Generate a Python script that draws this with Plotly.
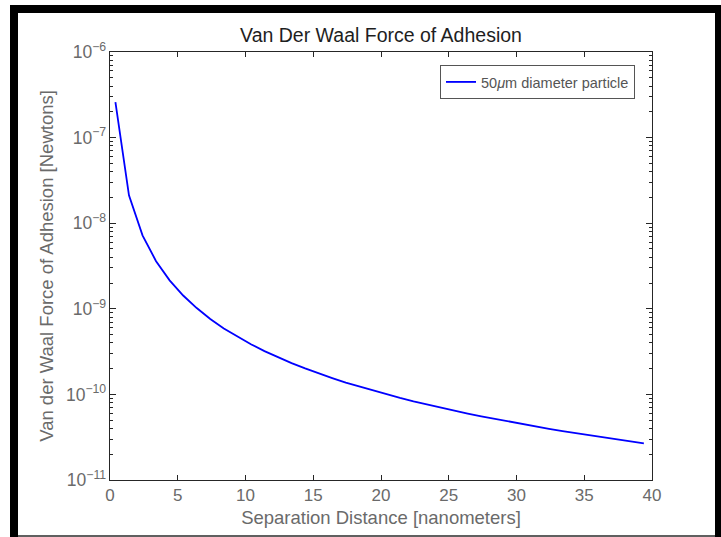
import plotly.graph_objects as go

# Data
separation_nm = [0.4, 1.4, 2.4, 3.4, 4.4, 5.4, 6.4, 7.4, 8.4, 9.4,
                 10.4, 11.4, 12.4, 13.4, 14.4, 15.4, 16.4, 17.4, 18.4, 19.4,
                 20.4, 21.4, 22.4, 23.4, 24.4, 25.4, 26.4, 27.4, 28.4, 29.4,
                 30.4, 31.4, 32.4, 33.4, 34.4, 35.4, 36.4, 37.4, 38.4, 39.4]
force_N = [2.6e-7, 2.12e-8, 7.22e-9, 3.60e-9, 2.15e-9, 1.43e-9, 1.02e-9, 7.60e-10, 5.90e-10, 4.71e-10,
           3.85e-10, 3.20e-10, 2.71e-10, 2.32e-10, 2.01e-10, 1.75e-10, 1.55e-10, 1.37e-10, 1.23e-10, 1.11e-10,
           1.00e-10, 9.08e-11, 8.29e-11, 7.60e-11, 6.99e-11, 6.45e-11, 5.97e-11, 5.54e-11, 5.16e-11, 4.81e-11,
           4.50e-11, 4.22e-11, 3.96e-11, 3.73e-11, 3.52e-11, 3.32e-11, 3.14e-11, 2.97e-11, 2.82e-11, 2.68e-11]

x_ticks = [0, 5, 10, 15, 20, 25, 30, 35, 40]
y_decades = [-11, -6]

FONT = "Liberation Sans, Arial, sans-serif"
AXIS = "#262626"
TXT = "#6a6a6a"

fig = go.Figure()
fig.add_trace(go.Scatter(
    x=separation_nm, y=force_N, mode="lines",
    line=dict(color="#0000ff", width=1.8),
    name="50<i>\u03bc</i>m diameter particle",
))

fig.update_layout(
    width=721, height=537,
    margin=dict(l=110, r=69, t=52, b=57),
    paper_bgcolor="white", plot_bgcolor="white",
    font=dict(family=FONT, color=TXT, size=17),
    title=dict(text="Van Der Waal Force of Adhesion", x=0.5, xref="paper",
               xanchor="center", y=1 - 42 / 537, yanchor="bottom",
               font=dict(size=19.5, color="#1e1e1e", family=FONT)),
    showlegend=True,
    legend=dict(x=(635 - 110) / 542, y=(480 - 65) / 428, xanchor="right", yanchor="top",
                bgcolor="white", bordercolor="#555555", borderwidth=1,
                font=dict(size=14.5, color="#555555", family=FONT)),
    xaxis=dict(range=[0, 40], tickvals=x_ticks, ticks="inside", ticklen=5,
               tickcolor=AXIS, showline=True, linecolor=AXIS, linewidth=1,
               mirror="ticks", showgrid=False, zeroline=False,
               tickfont=dict(size=17, color=TXT),
               title=dict(text="Separation Distance [nanometers]", standoff=6,
                          font=dict(size=18.5, color=TXT))),
    yaxis=dict(type="log", range=y_decades, dtick=1, exponentformat="power",
               ticks="inside", ticklen=6, tickcolor=AXIS, showline=True,
               linecolor=AXIS, linewidth=1, mirror="ticks", showgrid=False,
               zeroline=False, tickfont=dict(size=14, color=TXT),
               minor=dict(ticks="inside", ticklen=3, tickcolor=AXIS, dtick="D1",
                          showgrid=False),
               title=dict(text="Van der Waal Force of Adhesion [Newtons]", standoff=7,
                          font=dict(size=18.5, color=TXT))),
)

# Picture frame around the figure (black bands as in the reference screenshot)
def px_x(p):
    return (p - 110) / 542

def px_y(p):
    return (480 - p) / 428

frame = [
    (10, 5, 721, 13, "black"),
    (10, 5, 18, 537, "black"),
    (715, 5, 721, 537, "black"),
    (18, 535, 715, 537, "#606060"),
]
for x0, y0, x1, y1, c in frame:
    fig.add_shape(type="rect", xref="paper", yref="paper",
                  x0=px_x(x0), x1=px_x(x1), y0=px_y(y0), y1=px_y(y1),
                  fillcolor=c, line=dict(width=0), layer="above")

fig.write_html("out.html")
